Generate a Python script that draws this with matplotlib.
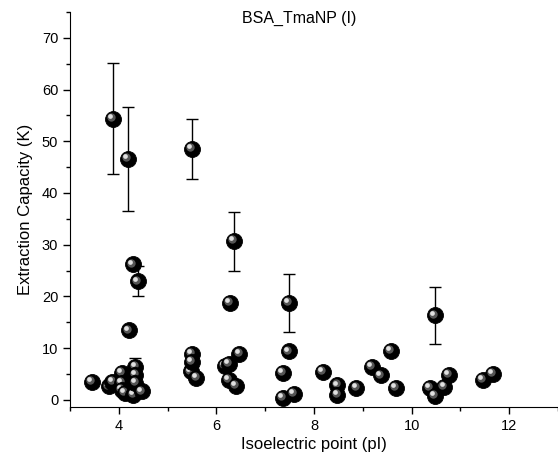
import numpy as np
import matplotlib
matplotlib.use('Agg')
from matplotlib import pyplot as plt
from matplotlib import transforms as mtrans

plt.rcParams['font.family'] = ['Liberation Sans', 'DejaVu Sans']

# scatter points (pI, extraction capacity)
pI = [3.45, 3.79, 3.87, 4.07, 4.07, 4.07, 4.13, 4.20, 4.29, 4.39,
      4.30, 4.34, 4.34, 4.34, 4.48, 3.88, 4.19,
      5.50, 5.50, 5.48, 5.59, 5.50,
      6.36, 6.28, 6.47, 6.18, 6.25, 6.25, 6.40,
      7.49, 7.49, 7.37, 7.37, 7.59,
      8.18, 8.48, 8.48, 8.87, 9.18, 9.37, 9.57, 9.68,
      10.47, 10.37, 10.47, 10.67, 10.77, 11.46, 11.67]
cap = [3.4, 2.6, 3.5, 5.2, 3.2, 1.9, 1.3, 13.4, 26.2, 22.9,
       1.0, 6.4, 4.8, 3.2, 1.6, 54.35, 46.6,
       48.5, 8.9, 5.5, 4.2, 7.3,
       30.75, 18.7, 8.9, 6.6, 7.0, 3.9, 2.7,
       18.8, 9.35, 5.2, 0.3, 1.16,
       5.4, 2.8, 1.0, 2.3, 6.3, 4.7, 9.5, 2.3,
       16.3, 2.3, 0.8, 2.5, 4.8, 3.9, 5.0]

# points with visible error bars
err_x = [3.88, 4.19, 4.39, 4.34, 5.50, 6.36, 7.49, 10.47]
err_y = [54.35, 46.6, 22.9, 6.4, 48.5, 30.75, 18.8, 16.3]
err_lo = [43.65, 36.6, 20.0, 4.7, 42.7, 25.0, 13.2, 10.8]
err_hi = [65.1, 56.7, 25.8, 8.1, 54.3, 36.3, 24.4, 21.8]

fig = plt.figure(figsize=(5.58, 4.66), dpi=100)
ax = fig.add_axes([0.1254, 0.1266, 0.8746, 0.8476])

ey = np.array(err_y)
yerr = [ey - np.array(err_lo), np.array(err_hi) - ey]
ax.errorbar(err_x, err_y, yerr=yerr, fmt='none', ecolor='black',
            elinewidth=1.0, capsize=4.5, capthick=1.0, zorder=1)

# shaded "sphere" markers, one by one so overlaps stack
hl1 = mtrans.offset_copy(ax.transData, fig=fig, x=-1.3, y=1.3, units='points')
hl2 = mtrans.offset_copy(ax.transData, fig=fig, x=-2.0, y=2.0, units='points')
z = 2
for xi, yi in zip(pI, cap):
    ax.plot(xi, yi, 'o', ms=11.5, mfc='black', mec='black', mew=0.6, zorder=z)
    ax.plot(xi, yi, 'o', ms=6, mfc='#555555', mec='none', zorder=z + 0.1,
            transform=hl1)
    ax.plot(xi, yi, 'o', ms=3.4, mfc='#e0e0e0', mec='none', zorder=z + 0.2,
            transform=hl2)
    z += 1

ax.set_xlim(3, 13)
ax.set_ylim(-1.4, 75)
ax.set_xticks([4, 6, 8, 10, 12])
ax.set_xticks(np.arange(3, 13.1, 1), minor=True)
ax.set_yticks(np.arange(0, 71, 10))
ax.set_yticks(np.arange(0, 76, 5), minor=True)
ax.spines['top'].set_visible(False)
ax.spines['right'].set_visible(False)
ax.tick_params(which='major', direction='out', length=5, width=1, labelsize=10.5)
ax.tick_params(which='minor', direction='out', length=3, width=1)

ax.set_xlabel('Isoelectric point (pI)', fontsize=12, labelpad=3)
ax.set_ylabel('Extraction Capacity (K)', fontsize=12, labelpad=6)
ax.text(0.47, 0.985, 'BSA_TmaNP (I)', transform=ax.transAxes, ha='center',
        va='center', fontsize=11.5)

fig.savefig('out.png', dpi=100)
